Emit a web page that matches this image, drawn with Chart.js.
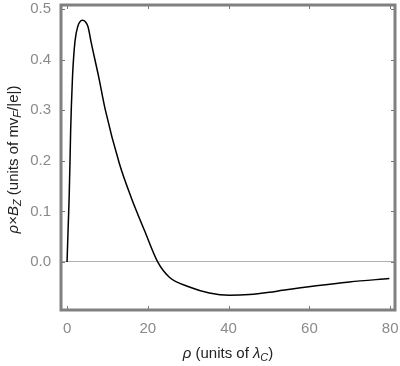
<!DOCTYPE html>
<html>
<head>
<meta charset="utf-8">
<script src="https://cdn.jsdelivr.net/npm/chart.js@4"></script>
<style>
  html, body { margin: 0; padding: 0; background: #fff; }
  #wrap { width: 400px; height: 366px; }
</style>
</head>
<body>
<div id="wrap"><canvas id="chart"></canvas></div>
<script>
// values
const rho = [0, 0.25, 0.52, 0.72, 0.89, 1.07, 1.36, 1.96, 2.67, 3.79, 5.15, 6.02, 7.83, 9.49, 12.95, 15.85, 19.15, 22.44, 25.33, 30.29, 35.24, 40.2, 45.15, 50.1, 53.4, 61.7, 69.9, 79.8];
const rhoBz = [0, 0.063, 0.128, 0.195, 0.26, 0.309, 0.368, 0.436, 0.466, 0.478, 0.466, 0.432, 0.366, 0.30, 0.1945, 0.128, 0.0626, 0, -0.0302, -0.0494, -0.0613, -0.0658, -0.0644, -0.060, -0.056, -0.047, -0.0395, -0.0328];
const xTicks = [0, 20, 40, 60, 80];
const yTicks = [0.0, 0.1, 0.2, 0.3, 0.4, 0.5];

const points = rho.map((r, i) => ({ x: r, y: rhoBz[i] }));

const FONT = '"Liberation Sans", Arial, sans-serif';

// draws a run of text pieces, some of them subscripts, centred on (0,0)
function drawRich(ctx, parts) {
    let widths = parts.map(p => {
        ctx.font = (p.italic ? 'italic ' : '') + (p.sub ? 11 : 15) + 'px ' + FONT;
        return ctx.measureText(p.t).width;
    });
    let total = widths.reduce((a, b) => a + b, 0);
    let x = -total / 2;
    parts.forEach((p, i) => {
        ctx.font = (p.italic ? 'italic ' : '') + (p.sub ? 11 : 15) + 'px ' + FONT;
        ctx.fillText(p.t, x, p.sub ? 4 : 0);
        x += widths[i];
    });
}

const framePlugin = {
    id: 'frame',
    afterDraw(chart) {
        let ctx = chart.ctx;
        let a = chart.chartArea;
        let xs = chart.scales.x, ys = chart.scales.y;
        ctx.save();
        // small tick marks on the frame
        ctx.strokeStyle = '#777';
        ctx.lineWidth = 1;
        ctx.beginPath();
        xTicks.forEach(v => {
            let px = Math.round(xs.getPixelForValue(v)) + 0.5;
            ctx.moveTo(px, a.bottom); ctx.lineTo(px, a.bottom - 4);
            ctx.moveTo(px, a.top); ctx.lineTo(px, a.top + 4);
        });
        yTicks.forEach(v => {
            let py = Math.round(ys.getPixelForValue(v)) + 0.5;
            ctx.moveTo(a.left, py); ctx.lineTo(a.left + 4, py);
            ctx.moveTo(a.right, py); ctx.lineTo(a.right - 4, py);
        });
        ctx.stroke();
        // thick grey box
        ctx.strokeStyle = '#808080';
        ctx.lineWidth = 3;
        ctx.strokeRect(a.left, a.top, a.right - a.left, a.bottom - a.top);

        // axis titles
        ctx.fillStyle = '#222';
        ctx.textBaseline = 'middle';
        ctx.textAlign = 'left';
        ctx.save();
        ctx.translate((a.left + a.right) / 2, 354);
        drawRich(ctx, [
            { t: 'ρ', italic: true },
            { t: ' (units of ' },
            { t: 'λ', italic: true },
            { t: 'C', italic: true, sub: true },
            { t: ')' }
        ]);
        ctx.restore();
        ctx.save();
        ctx.translate(14, (a.top + a.bottom) / 2 + 2);
        ctx.rotate(-Math.PI / 2);
        drawRich(ctx, [
            { t: 'ρ', italic: true },
            { t: '×' },
            { t: 'B', italic: true },
            { t: 'Z', italic: true, sub: true },
            { t: ' (units of mv' },
            { t: 'F', italic: true, sub: true },
            { t: '/|e|)' }
        ]);
        ctx.restore();
        ctx.restore();
    }
};

new Chart(document.getElementById('chart'), {
    type: 'scatter',
    data: {
        datasets: [{
            data: points,
            showLine: true,
            borderColor: '#000',
            borderWidth: 1.5,
            pointRadius: 0,
            cubicInterpolationMode: 'monotone',
            fill: false
        }]
    },
    options: {
        responsive: true,
        maintainAspectRatio: false,
        animation: false,
        layout: { padding: { top: 5, right: 5, left: 0, bottom: 0 } },
        plugins: { legend: { display: false }, tooltip: { enabled: false } },
        scales: {
            x: {
                type: 'linear',
                min: -1.5,
                max: 81.2,
                afterBuildTicks: s => { s.ticks = xTicks.map(v => ({ value: v })); },
                afterFit: s => { s.height = 56; s.paddingLeft = 0; s.paddingRight = 0; },
                grid: { display: false, drawTicks: false },
                border: { display: false },
                ticks: { color: '#8a8a8a', padding: 10, font: { family: FONT, size: 15 } }
            },
            y: {
                type: 'linear',
                min: -0.095,
                max: 0.508,
                afterBuildTicks: s => { s.ticks = yTicks.map(v => ({ value: v })); },
                afterFit: s => { s.width = 61; s.paddingTop = 0; s.paddingBottom = 0; },
                grid: {
                    drawTicks: false,
                    color: c => (c.tick && c.tick.value === 0 ? '#b0b0b0' : 'rgba(0,0,0,0)'),
                    lineWidth: 1
                },
                border: { display: false },
                ticks: {
                    color: '#8a8a8a',
                    padding: 10,
                    font: { family: FONT, size: 15 },
                    callback: v => v.toFixed(1)
                }
            }
        }
    },
    plugins: [framePlugin]
});
</script>
</body>
</html>
